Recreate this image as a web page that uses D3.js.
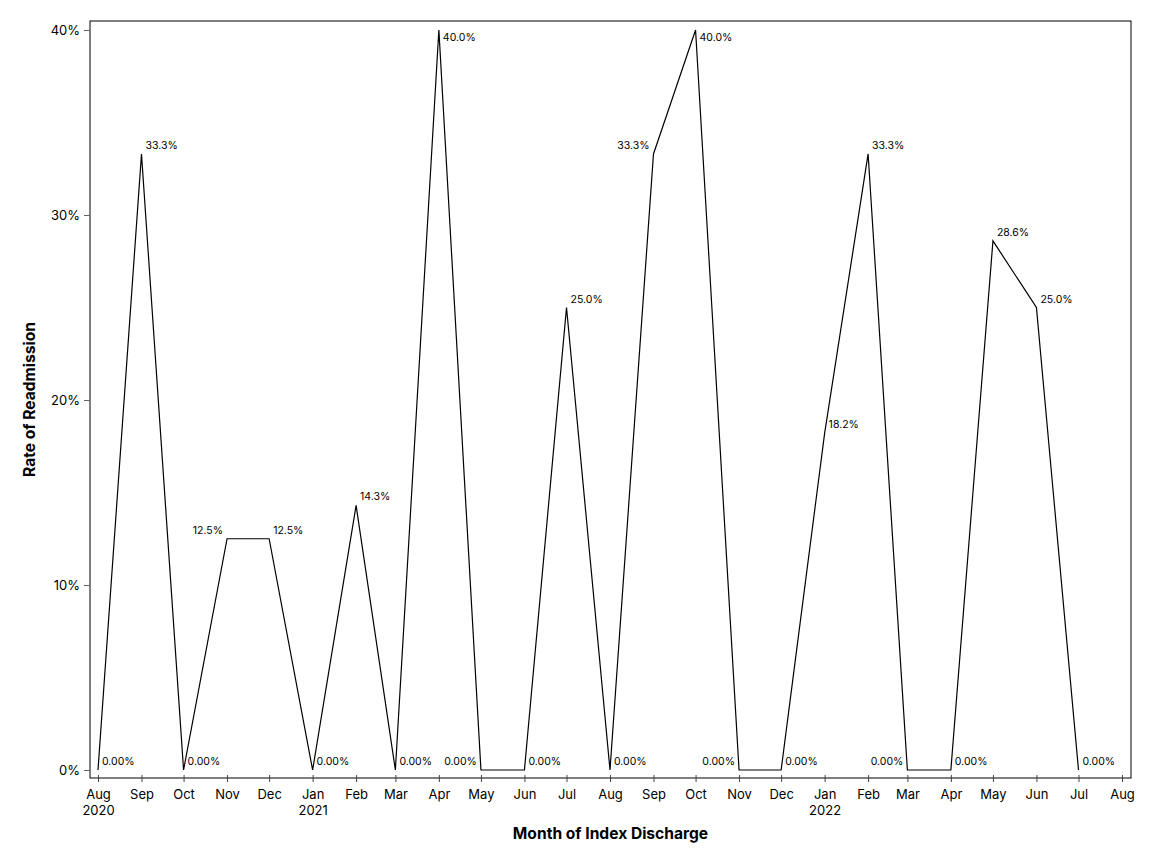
<!DOCTYPE html>
<html>
<head>
<meta charset="utf-8">
<script src="https://cdn.jsdelivr.net/npm/d3@7"></script>
<style>
  body { margin: 0; background: #fff; }
  svg { font-family: "Inter", "Roboto", sans-serif; }
</style>
</head>
<body>
<div id="chart"></div>
<script>
// monthly rate of readmission, Aug 2020 .. Jul 2022
var months = ["2020-08","2020-09","2020-10","2020-11","2020-12","2021-01","2021-02","2021-03",
              "2021-04","2021-05","2021-06","2021-07","2021-08","2021-09","2021-10","2021-11",
              "2021-12","2022-01","2022-02","2022-03","2022-04","2022-05","2022-06","2022-07"];
var rates = [0, 33.3, 0, 12.5, 12.5, 0, 14.3, 0,
             40.0, 0, 0, 25.0, 0, 33.3, 40.0, 0,
             0, 18.2, 33.3, 0, 0, 28.6, 25.0, 0];
// label side: R = right/above, L = left/above, B = right/below
var labelSide = ["R","R","R","L","R","R","R","R",
                 "B","L","R","R","R","L","B","L",
                 "R","R","R","L","R","R","R","R"];
var yTicks = [0, 10, 20, 30, 40];

var W = 1152, H = 864;
var plotL = 90, plotR = 1131, plotT = 21, plotB = 778;

var parse = d3.timeParse("%Y-%m");
var data = months.map(function(m, i) { return { date: parse(m), v: rates[i], side: labelSide[i] }; });

var svg = d3.select("#chart").append("svg")
            .attr("width", W)
            .attr("height", H);

var x = d3.scaleTime()
          .domain([parse("2020-08"), parse("2022-08")])
          .range([98, 1122]);
var y = d3.scaleLinear()
          .domain([0, 40])
          .range([770, 30]);

// frame
svg.append("rect")
   .attr("x", plotL).attr("y", plotT)
   .attr("width", plotR - plotL).attr("height", plotB - plotT)
   .attr("fill", "none").attr("stroke", "#000").attr("stroke-width", 1);

// y axis
var yAxis = svg.append("g")
   .attr("transform", "translate(" + plotL + ",0)")
   .call(d3.axisLeft(y).tickValues(yTicks).tickSize(6).tickPadding(4)
           .tickFormat(function(d) { return d + "%"; }));
yAxis.select(".domain").remove();
yAxis.selectAll(".tick line").attr("stroke", "#666");
yAxis.selectAll(".tick text").attr("font-size", 13).attr("fill", "#000")
     .attr("font-family", "Inter, Roboto, sans-serif");

// x axis
var fmtMon = d3.timeFormat("%b");
var xAxis = svg.append("g")
   .attr("transform", "translate(0," + plotB + ")")
   .call(d3.axisBottom(x).ticks(d3.timeMonth.every(1)).tickSize(4).tickPadding(8)
           .tickFormat(fmtMon));
xAxis.select(".domain").remove();
xAxis.selectAll(".tick line").attr("stroke", "#444").attr("y1", -3);
xAxis.selectAll(".tick text")
     .attr("font-size", 13).attr("fill", "#000")
     .attr("font-family", "Inter, Roboto, sans-serif")
     .each(function(d) {
        if (d.getMonth() === 0 || +d === +parse("2020-08")) {
          d3.select(this).append("tspan")
            .attr("x", 0).attr("dy", "1.25em")
            .text(d.getFullYear());
        }
     });

// line
var line = d3.line()
   .x(function(d) { return x(d.date); })
   .y(function(d) { return y(d.v); });

svg.append("path")
   .datum(data)
   .attr("d", line)
   .attr("fill", "none")
   .attr("stroke", "#000")
   .attr("stroke-width", 1.2);

// point labels
svg.append("g").selectAll("text")
   .data(data)
   .enter().append("text")
   .attr("x", function(d) { return d.side === "L" ? x(d.date) - 4 : x(d.date) + 4; })
   .attr("y", function(d) { return d.side === "B" ? y(d.v) + 11 : y(d.v) - 5; })
   .attr("text-anchor", function(d) { return d.side === "L" ? "end" : "start"; })
   .attr("font-size", 10.5)
   .attr("fill", "#000")
   .text(function(d) { return d.v === 0 ? "0.00%" : d.v.toFixed(1) + "%"; });

// axis titles
svg.append("text")
   .attr("x", (plotL + plotR) / 2)
   .attr("y", 839)
   .attr("text-anchor", "middle")
   .attr("font-size", 15.6)
   .attr("font-weight", "bold")
   .text("Month of Index Discharge");

svg.append("text")
   .attr("transform", "translate(35," + (plotT + plotB) / 2 + ") rotate(-90)")
   .attr("text-anchor", "middle")
   .attr("font-size", 15.6)
   .attr("font-weight", "bold")
   .text("Rate of Readmission");
</script>
</body>
</html>
